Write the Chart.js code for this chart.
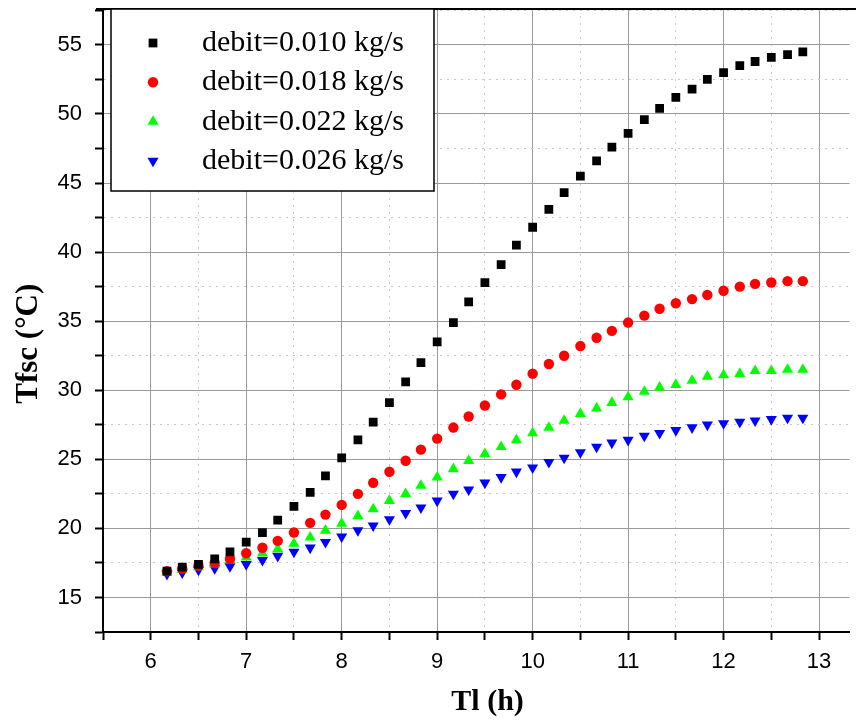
<!DOCTYPE html>
<html>
<head>
<meta charset="utf-8">
<script src="https://cdn.jsdelivr.net/npm/chart.js@4.4.1/dist/chart.umd.min.js"></script>
<style>
  html, body { margin: 0; padding: 0; background: #fff; }
  #chart { display: block; }
</style>
</head>
<body>
<canvas id="chart" width="856" height="720"></canvas>
<script>
'use strict';

// time of day (h), one point every 10 minutes
let hours = [
  6.17, 6.33, 6.5, 6.67, 6.83,
  7.0, 7.17, 7.33, 7.5, 7.67, 7.83,
  8.0, 8.17, 8.33, 8.5, 8.67, 8.83,
  9.0, 9.17, 9.33, 9.5, 9.67, 9.83,
  10.0, 10.17, 10.33, 10.5, 10.67, 10.83,
  11.0, 11.17, 11.33, 11.5, 11.67, 11.83,
  12.0, 12.17, 12.33, 12.5, 12.67, 12.83
];

// Tfsc for each flow rate
let debit010 = [
  16.9, 17.2, 17.4, 17.8, 18.3,
  19.0, 19.7, 20.6, 21.6, 22.6, 23.8,
  25.1, 26.4, 27.7, 29.1, 30.6, 32.0,
  33.5, 34.9, 36.4, 37.8, 39.1, 40.5,
  41.8, 43.1, 44.3, 45.5, 46.6, 47.6,
  48.6, 49.6, 50.4, 51.2, 51.8, 52.5,
  53.0, 53.5, 53.8, 54.1, 54.3, 54.5
];
let debit018 = [
  16.9, 17.1, 17.3, 17.5, 17.8,
  18.2, 18.6, 19.1, 19.7, 20.4, 21.0,
  21.7, 22.5, 23.3, 24.1, 24.9, 25.7,
  26.5, 27.3, 28.1, 28.9, 29.7, 30.4,
  31.2, 31.9, 32.5, 33.2, 33.8, 34.3,
  34.9, 35.4, 35.9, 36.3, 36.6, 36.9,
  37.2, 37.5, 37.7, 37.8, 37.9, 37.9
];
let debit022 = [
  16.8, 17.0, 17.2, 17.4, 17.7,
  17.9, 18.2, 18.5, 18.9, 19.35, 19.85,
  20.35, 20.9, 21.4, 22.0, 22.5, 23.1,
  23.7, 24.3, 24.9, 25.4, 25.9, 26.4,
  26.9, 27.3, 27.8, 28.3, 28.7, 29.1,
  29.5, 29.9, 30.2, 30.4, 30.7, 31.0,
  31.1, 31.2, 31.4, 31.4, 31.5, 31.5
];
let debit026 = [
  16.7, 16.8, 17.0, 17.1, 17.25,
  17.4, 17.7, 18.0, 18.3, 18.6, 19.0,
  19.4, 19.85, 20.2, 20.65, 21.1, 21.5,
  22.0, 22.5, 22.8, 23.3, 23.7, 24.1,
  24.4, 24.8, 25.1, 25.5, 25.9, 26.2,
  26.4, 26.7, 26.9, 27.1, 27.3, 27.5,
  27.6, 27.7, 27.8, 27.9, 28.0, 28.0
];

let seriesNames = ['debit=0.010 kg/s', 'debit=0.018 kg/s', 'debit=0.022 kg/s', 'debit=0.026 kg/s'];
let seriesValues = [debit010, debit018, debit022, debit026];
let seriesColors = ['#000000', '#ff0000', '#00ff00', '#0000ff'];
let seriesStyles = ['rect', 'circle', 'triangle', 'triangle'];
let seriesRadius = [6.2, 5.2, 6.4, 6.4];
let seriesRotation = [0, 0, 0, 180];

// axis ranges and tick positions (labels on whole values, minor ticks between)
let xMin = 5.5, xMax = 13.32;
let xTicks = [5.5, 6, 6.5, 7, 7.5, 8, 8.5, 9, 9.5, 10, 10.5, 11, 11.5, 12, 12.5, 13];
let yMin = 12.5, yMax = 57.6;
let yTicks = [12.5, 15, 17.5, 20, 22.5, 25, 27.5, 30, 32.5, 35, 37.5, 40, 42.5, 45, 47.5, 50, 52.5, 55, 57.5];

function toPoints(values) {
  let pts = [];
  for (let i = 0; i < hours.length; i++) {
    pts.push({ x: hours[i], y: values[i] });
  }
  return pts;
}

let datasets = [];
for (let i = 0; i < seriesNames.length; i++) {
  datasets.push({
    label: seriesNames[i],
    data: toPoints(seriesValues[i]),
    showLine: false,
    pointStyle: seriesStyles[i],
    pointRadius: seriesRadius[i],
    pointHoverRadius: seriesRadius[i],
    pointRotation: seriesRotation[i],
    pointBorderWidth: 0,
    backgroundColor: seriesColors[i],
    borderColor: seriesColors[i]
  });
}

// dotted minor lines on the half steps, solid on the labelled ones
function isMajor(value, every) {
  return Math.abs(value / every - Math.round(value / every)) < 1e-6;
}

// top edge of the frame + the boxed legend in the upper left corner
const frameAndLegend = {
  id: 'frameAndLegend',
  afterDatasetsDraw(chart) {
    const ctx = chart.ctx;
    const a = chart.chartArea;
    ctx.save();
    ctx.strokeStyle = '#000';
    ctx.lineWidth = 2;
    ctx.beginPath();
    ctx.moveTo(a.left - 7, a.top);
    ctx.lineTo(chart.width, a.top);
    ctx.stroke();

    // legend
    let bx = a.left + 8, by = a.top, bw = 323, bh = 182;
    ctx.fillStyle = '#fff';
    ctx.fillRect(bx, by, bw, bh);
    ctx.lineWidth = 1.5;
    ctx.strokeRect(bx, by, bw, bh);

    ctx.font = '30px "Liberation Serif", "Times New Roman", serif';
    ctx.textBaseline = 'alphabetic';
    ctx.textAlign = 'left';
    for (let i = 0; i < seriesNames.length; i++) {
      let ly = by + 34 + i * 39.3;
      ctx.fillStyle = seriesColors[i];
      Chart.helpers.drawPoint(ctx, {
        pointStyle: seriesStyles[i],
        radius: seriesRadius[i],
        rotation: seriesRotation[i],
        borderWidth: 0
      }, bx + 42, ly);
      ctx.fillStyle = '#000';
      ctx.fillText(seriesNames[i], bx + 91, ly + 8);
    }
    ctx.restore();
  }
};

function fixedTicks(values) {
  return function (scale) {
    scale.ticks = values.map(function (v) { return { value: v }; });
  };
}

const ctx = document.getElementById('chart').getContext('2d');
const myChart = new Chart(ctx, { //eslint-disable-line
  type: 'scatter',
  data: { datasets: datasets },
  options: {
    responsive: false,
    animation: false,
    layout: { padding: { top: 9, right: 0, left: 0, bottom: 0 } },
    plugins: {
      legend: { display: false },
      tooltip: { enabled: false }
    },
    scales: {
      x: {
        type: 'linear',
        min: xMin,
        max: xMax,
        afterBuildTicks: fixedTicks(xTicks),
        afterFit: function (scale) {
          scale.height = 88;
          scale.paddingLeft = 0;
          scale.paddingRight = 0;
        },
        ticks: {
          autoSkip: false,
          maxRotation: 0,
          padding: 9,
          color: '#000',
          font: { family: '"Liberation Sans", Arial, sans-serif', size: 22 },
          callback: function (v) { return isMajor(v, 1) ? String(Math.round(v)) : ''; }
        },
        grid: {
          color: function (c) { return isMajor(c.tick.value, 1) ? '#9a9a9a' : '#c8c8c8'; },
          lineWidth: 1,
          tickLength: 8,
          tickColor: '#000',
          tickWidth: 2
        },
        border: {
          color: '#000',
          width: 2,
          dash: function (c) { return (c.tick && !isMajor(c.tick.value, 1)) ? [2, 5] : []; }
        },
        title: {
          display: true,
          text: '   Tl (h)',
          color: '#000',
          font: { family: '"Liberation Serif", "Times New Roman", serif', size: 30, weight: 'bold' },
          padding: { top: 0, bottom: 0 }
        }
      },
      y: {
        type: 'linear',
        min: yMin,
        max: yMax,
        afterBuildTicks: fixedTicks(yTicks),
        afterFit: function (scale) {
          scale.width = 103;
          scale.paddingTop = 0;
          scale.paddingBottom = 0;
        },
        ticks: {
          autoSkip: false,
          padding: 13,
          color: '#000',
          font: { family: '"Liberation Sans", Arial, sans-serif', size: 22 },
          callback: function (v) { return isMajor(v, 5) ? String(Math.round(v)) : ''; }
        },
        grid: {
          color: function (c) { return isMajor(c.tick.value, 5) ? '#9a9a9a' : '#c8c8c8'; },
          lineWidth: 1,
          tickLength: 8,
          tickColor: '#000',
          tickWidth: 2
        },
        border: {
          color: '#000',
          width: 2,
          dash: function (c) { return (c.tick && !isMajor(c.tick.value, 5)) ? [2, 5] : []; }
        },
        title: {
          display: true,
          text: 'Tfsc (°C)      ',
          color: '#000',
          font: { family: '"Liberation Serif", "Times New Roman", serif', size: 31, weight: 'bold' },
          padding: { top: 10, bottom: 0 }
        }
      }
    }
  },
  plugins: [frameAndLegend]
});
</script>
</body>
</html>
